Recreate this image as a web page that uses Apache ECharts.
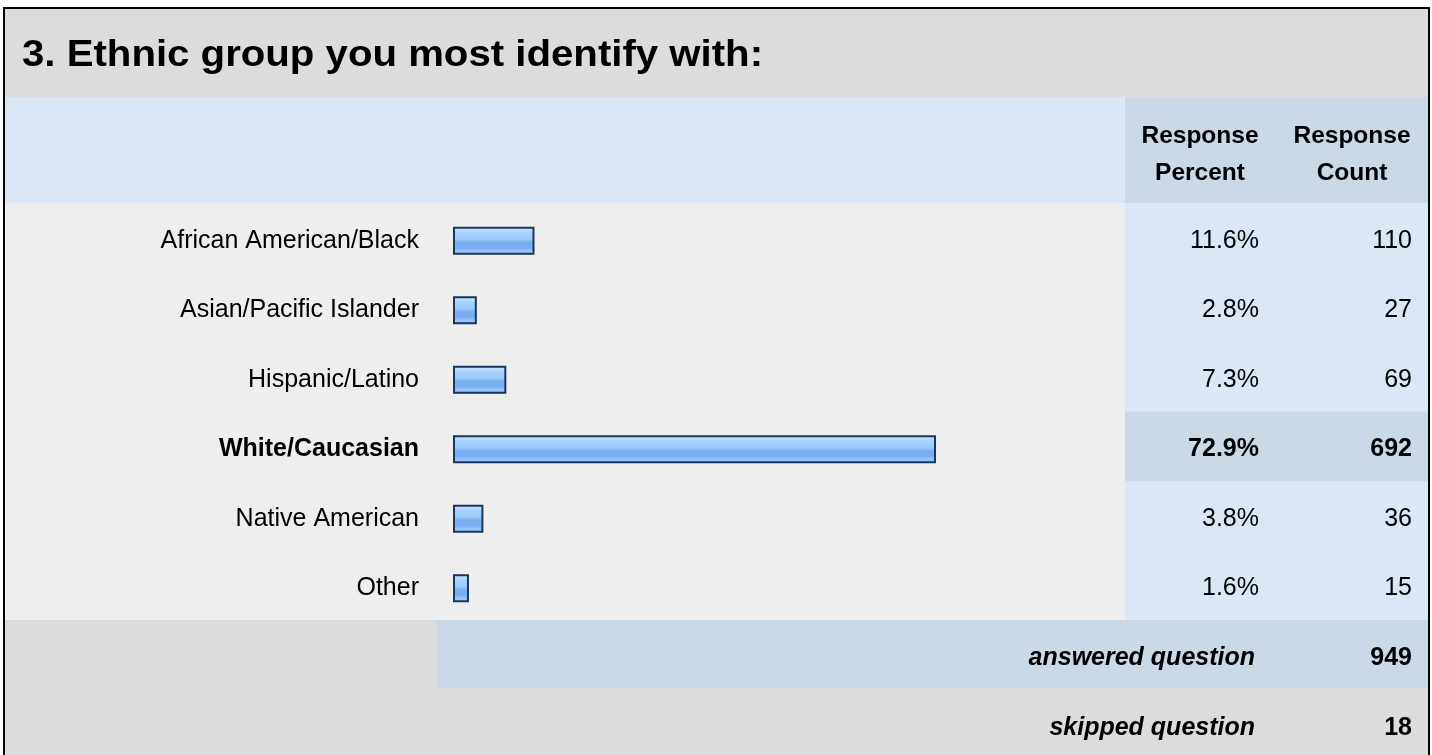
<!DOCTYPE html>
<html><head><meta charset="utf-8">
<script src="https://cdn.jsdelivr.net/npm/echarts@6/dist/echarts.min.js"></script>
<style>html,body{margin:0;padding:0;background:#fff}#c{width:1432px;height:755px}</style>
</head><body><div id="c"></div>
<script>
const titleText = '3. Ethnic group you most identify with:';
const categories = ['African American/Black', 'Asian/Pacific Islander', 'Hispanic/Latino', 'White/Caucasian', 'Native American', 'Other'];
const percents = [11.6, 2.8, 7.3, 72.9, 3.8, 1.6];
const counts = [110, 27, 69, 692, 36, 15];
const highlighted = 'White/Caucasian';
const headerPercent = ['Response', 'Percent'];
const headerCount = ['Response', 'Count'];
const footerLabels = ['answered question', 'skipped question'];
const footerValues = [949, 18];

const FONT = '"Liberation Sans", Arial, sans-serif';
const chart = echarts.init(document.getElementById('c'));

function isHi(i) { return categories[i] === highlighted; }
const hiIndex = categories.indexOf(highlighted);
const rowTop = 203, rowH = 69.5;

const rects = [
  { x: 5, y: 9, w: 1423, h: 88, c: '#dcdcdc' },
  { x: 5, y: 97, w: 1423, h: 106, c: '#dce7f5' },
  { x: 1125, y: 97, w: 303, h: 106, c: '#cbd8e6' },
  { x: 5, y: 203, w: 1120, h: 417, c: '#eeeeee' },
  { x: 1125, y: 203, w: 303, h: 417, c: '#dce7f5' },
  { x: 1125, y: rowTop + hiIndex * rowH, w: 303, h: rowH, c: '#cbd8e6' },
  { x: 5, y: 620, w: 1423, h: 140, c: '#dcdcdc' },
  { x: 437, y: 620, w: 991, h: 68, c: '#cbd8e6' }
];

const graphic = rects.map(r => ({
  type: 'rect', silent: true, z: -10,
  shape: { x: r.x, y: r.y, width: r.w, height: r.h },
  style: { fill: r.c }
}));

graphic.push({
  type: 'text', x: 22, y: 56, scaleX: 1.116, z: 10,
  style: { x: 0, y: 0, text: titleText, font: 'bold 36px ' + FONT, fill: '#000', verticalAlign: 'middle' }
});
graphic.push({
  type: 'text', x: 1200, y: 155, z: 10,
  style: { text: headerPercent.join('\n'), font: 'bold 24.5px ' + FONT, fill: '#000', align: 'center', verticalAlign: 'middle', lineHeight: 37 }
});
graphic.push({
  type: 'text', x: 1352, y: 155, z: 10,
  style: { text: headerCount.join('\n'), font: 'bold 24.5px ' + FONT, fill: '#000', align: 'center', verticalAlign: 'middle', lineHeight: 37 }
});
const footerY = [658, 728];
footerLabels.forEach((t, i) => {
  graphic.push({
    type: 'text', x: 1255, y: footerY[i], z: 10,
    style: { text: t, font: 'italic bold 25px ' + FONT, fill: '#000', align: 'right', verticalAlign: 'middle' }
  });
  graphic.push({
    type: 'text', x: 1412, y: footerY[i], z: 10,
    style: { text: String(footerValues[i]), font: 'bold 25px ' + FONT, fill: '#000', align: 'right', verticalAlign: 'middle' }
  });
});
graphic.push({
  type: 'rect', silent: true, z: 100,
  shape: { x: 4, y: 8, width: 1425, height: 800 },
  style: { fill: 'none', stroke: '#000', lineWidth: 2 }
});

const labelRich = {
  n: { fontFamily: FONT, fontSize: 25, color: '#000' },
  b: { fontFamily: FONT, fontSize: 25, color: '#000', fontWeight: 'bold' }
};

chart.setOption({
  animation: false,
  graphic: graphic,
  grid: { left: 453, right: 318.5, top: 206, bottom: 132, containLabel: false },
  xAxis: { type: 'value', min: -0.84, max: 100, startValue: -0.84, show: false },
  yAxis: [
    {
      type: 'category', data: categories, inverse: true, position: 'left',
      axisLine: { show: false }, axisTick: { show: false }, splitLine: { show: false },
      axisLabel: { margin: 34, formatter: (v, i) => `{${isHi(i) ? 'b' : 'n'}|${v}}`, rich: labelRich }
    },
    {
      type: 'category', data: categories, inverse: true, position: 'right',
      axisLine: { show: false }, axisTick: { show: false }, splitLine: { show: false },
      axisLabel: { margin: 145.5, align: 'right', formatter: (v, i) => `{${isHi(i) ? 'b' : 'n'}|${percents[i].toFixed(1)}%}`, rich: labelRich }
    },
    {
      type: 'category', data: categories, inverse: true, position: 'right',
      axisLine: { show: false }, axisTick: { show: false }, splitLine: { show: false },
      axisLabel: { margin: 298.5, align: 'right', formatter: (v, i) => `{${isHi(i) ? 'b' : 'n'}|${counts[i]}}`, rich: labelRich }
    }
  ],
  series: [{
    type: 'bar', data: percents, barWidth: 28, yAxisIndex: 0,
    itemStyle: {
      borderColor: '#1b355c', borderWidth: 2,
      color: new echarts.graphic.LinearGradient(0, 0, 0, 1, [
        { offset: 0, color: '#d2e8ff' },
        { offset: 0.2, color: '#a8d3fe' },
        { offset: 0.45, color: '#99c9fc' },
        { offset: 0.55, color: '#79afef' },
        { offset: 0.75, color: '#78aeef' },
        { offset: 0.85, color: '#93c4fb' },
        { offset: 1, color: '#99c9fc' }
      ])
    }
  }]
});
</script></body></html>
